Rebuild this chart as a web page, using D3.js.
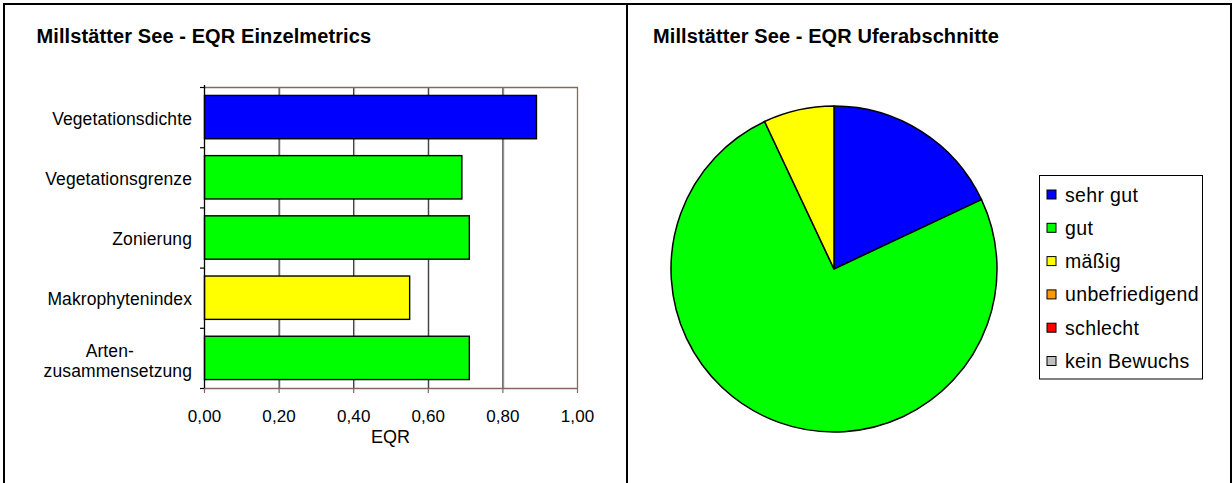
<!DOCTYPE html>
<html>
<head>
<meta charset="utf-8">
<script src="https://cdn.jsdelivr.net/npm/d3@7"></script>
<style>
  html, body { margin: 0; padding: 0; background: #fff; }
  svg { display: block; }
  text { font-family: "Liberation Sans", Arial, sans-serif; fill: #000; }
</style>
</head>
<body>
<svg id="chart" width="1232" height="483"></svg>
<script>
// EQR single metrics (bar chart)
const metrics = ["Vegetationsdichte", "Vegetationsgrenze", "Zonierung", "Makrophytenindex", "Arten-\nzusammensetzung"];
const metricValues = [0.89, 0.69, 0.71, 0.55, 0.71];
const metricColors = ["#0000ff", "#00ff00", "#00ff00", "#ffff00", "#00ff00"];
const xTicks = [0, 0.2, 0.4, 0.6, 0.8, 1.0];

// Shore sections by class (pie chart, share in %)
const classes = ["sehr gut", "gut", "mäßig", "unbefriedigend", "schlecht", "kein Bewuchs"];
const classShares = [18, 75, 7, 0, 0, 0];
const classColors = ["#0000ff", "#00ff00", "#ffff00", "#ff9900", "#ff0000", "#c0c0c0"];

const svg = d3.select("#chart");
const frameColor = "#000";
const plotBorder = "#8c6464";

// frames of both panels
svg.append("rect").attr("x", 4).attr("y", 4).attr("width", 623).attr("height", 490)
  .attr("fill", "none").attr("stroke", frameColor).attr("stroke-width", 2);
svg.append("rect").attr("x", 627).attr("y", 4).attr("width", 604).attr("height", 490)
  .attr("fill", "none").attr("stroke", frameColor).attr("stroke-width", 2);

// ---------- left panel: bar chart ----------
const titleStyle = t => t.attr("font-size", 20).attr("font-weight", "bold").attr("letter-spacing", 0.1);
svg.append("text").attr("x", 36.5).attr("y", 42.7).text("Millstätter See - EQR Einzelmetrics").call(titleStyle);

const plot = { left: 204, right: 577, top: 87, bottom: 388 };
const x = d3.scaleLinear().domain([0, 1]).range([plot.left, plot.right]);
const y = d3.scaleBand().domain(metrics).range([plot.top, plot.bottom]).paddingInner(0.28).paddingOuter(0.14);

const g = svg.append("g");

// vertical gridlines with light shadow
g.selectAll("line.gridShadow").data(xTicks.slice(1, -1)).join("line")
  .attr("x1", d => x(d) + 1.5).attr("x2", d => x(d) + 1.5)
  .attr("y1", plot.top).attr("y2", plot.bottom)
  .attr("stroke", "#c8c8c8").attr("stroke-width", 1);
g.selectAll("line.grid").data(xTicks.slice(1, -1)).join("line")
  .attr("x1", d => x(d) + 0.5).attr("x2", d => x(d) + 0.5)
  .attr("y1", plot.top).attr("y2", plot.bottom)
  .attr("stroke", "#1a1a1a").attr("stroke-width", 1);

// plot area border (top and right)
g.append("path")
  .attr("d", `M${plot.left},${plot.top + 0.5}H${plot.right + 0.5}V${plot.bottom}`)
  .attr("fill", "none").attr("stroke", plotBorder).attr("stroke-width", 1.3);

// bars
g.selectAll("rect.bar").data(metrics).join("rect")
  .attr("x", plot.left + 0.5)
  .attr("y", d => y(d))
  .attr("width", (d, i) => x(metricValues[i]) - plot.left)
  .attr("height", y.bandwidth())
  .attr("fill", (d, i) => metricColors[i])
  .attr("stroke", "#000").attr("stroke-width", 1.4);

// x axis
const xAxis = d3.axisBottom(x).tickValues(xTicks).tickSize(5).tickSizeOuter(0)
  .tickFormat(d => d3.format(".2f")(d).replace(".", ","));
const gx = svg.append("g").attr("transform", `translate(0,${plot.bottom})`).call(xAxis);
gx.select(".domain").attr("stroke", plotBorder).attr("stroke-width", 1.5);
gx.selectAll(".tick line").attr("stroke", plotBorder).attr("stroke-width", 1.2);
gx.selectAll(".tick text").attr("font-size", 17).attr("letter-spacing", 0.1)
  .attr("font-family", "Liberation Sans, Arial, sans-serif").attr("fill", "#000")
  .attr("y", 0).attr("dy", 0).attr("transform", "translate(0,34)");
svg.append("text").attr("x", (plot.left + plot.right) / 2).attr("y", 442.7)
  .attr("text-anchor", "middle").attr("font-size", 18).text("EQR");

// y axis: line, boundary ticks, labels
const boundaries = metrics.map((d, i) => plot.top + i * (plot.bottom - plot.top) / metrics.length).concat([plot.bottom]);
svg.append("line").attr("x1", plot.left + 0.5).attr("x2", plot.left + 0.5)
  .attr("y1", plot.top - 2).attr("y2", plot.bottom).attr("stroke", "#000").attr("stroke-width", 1.3);
svg.selectAll("line.ytick").data(boundaries).join("line")
  .attr("x1", plot.left - 4).attr("x2", plot.left)
  .attr("y1", d => d + 0.5).attr("y2", d => d + 0.5)
  .attr("stroke", "#000").attr("stroke-width", 1.2);

const labelX = 192;
metrics.forEach(m => {
  const lines = m.split("\n");
  const cy = y(m) + y.bandwidth() / 2;
  const t = svg.append("text").attr("font-size", 17.5).attr("letter-spacing", 0.1);
  if (lines.length === 1) {
    t.attr("x", labelX).attr("y", cy + 7.5).attr("text-anchor", "end").text(lines[0]);
  } else {
    const second = t.append("tspan").attr("x", labelX).attr("y", cy + 19).attr("text-anchor", "end").text(lines[1]);
    const w = second.node().getComputedTextLength();
    t.append("tspan").attr("x", labelX - w / 2 - 8).attr("y", cy - 1).attr("text-anchor", "middle").text(lines[0]);
  }
});

// ---------- right panel: pie chart ----------
svg.append("text").attr("x", 653).attr("y", 42.7).text("Millstätter See - EQR Uferabschnitte").call(titleStyle);

const cx = 834, cyPie = 269, r = 163;
const pie = d3.pie().sort(null).value(d => d.v).startAngle(0).endAngle(2 * Math.PI);
const arcs = pie(classes.map((c, i) => ({ c, v: classShares[i], col: classColors[i] }))).filter(a => a.data.v > 0);
const arc = d3.arc().innerRadius(0).outerRadius(r);
svg.append("g").attr("transform", `translate(${cx},${cyPie})`)
  .selectAll("path").data(arcs).join("path")
  .attr("d", arc)
  .attr("fill", d => d.data.col)
  .attr("stroke", "#000").attr("stroke-width", 1.5).attr("stroke-linejoin", "round");

// legend
const lg = svg.append("g");
lg.append("rect").attr("x", 1039.5).attr("y", 175.5).attr("width", 163).attr("height", 203.5)
  .attr("fill", "#fff").attr("stroke", "#000").attr("stroke-width", 1);
const rowY = d3.scaleLinear().domain([0, 5]).range([195, 361.5]);
const items = lg.selectAll("g.item").data(classes).join("g")
  .attr("transform", (d, i) => `translate(0,${rowY(i)})`);
items.append("rect").attr("x", 1047).attr("y", -5).attr("width", 9).attr("height", 9)
  .attr("fill", (d, i) => classColors[i]).attr("stroke", "#000").attr("stroke-width", 1);
items.append("text").attr("x", 1065).attr("y", 6.5).attr("font-size", 19.5).attr("letter-spacing", 0.35)
  .text(d => d);
</script>
</body>
</html>
